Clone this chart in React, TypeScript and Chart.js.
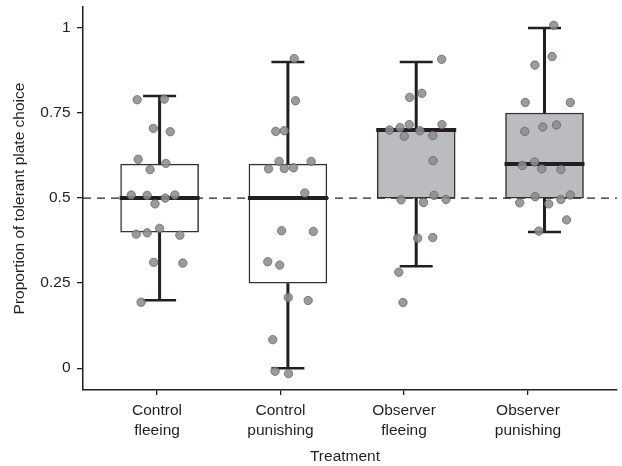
import React, { useEffect, useRef } from "react";
import { Chart, registerables } from "chart.js";

Chart.register(...registerables);

const FONT = "'Liberation Sans', Arial, Helvetica, sans-serif";
const INK = "#231f20";

// Categories / tick labels
const categories: string[][] = [
  ["Control", "fleeing"],
  ["Control", "punishing"],
  ["Observer", "fleeing"],
  ["Observer", "punishing"],
];
const groupX = [1, 2, 3, 4];
const categoryTickX = [0.98, 1.942, 2.905, 3.871];
const yTickValues = [0, 0.25, 0.5, 0.75, 1];
const yTickLabels = ["0", "0.25", "0.5", "0.75", "1"];
const xTitle = "Treatment";
const yTitle = "Proportion of tolerant plate choice";
const referenceValue = 0.5;

// Box summaries
const whiskerLow = [0.2, 0.0, 0.3, 0.4];
const quartile1 = [0.4, 0.25, 0.5, 0.5];
const medians = [0.5, 0.5, 0.7, 0.6];
const quartile3 = [0.6, 0.6, 0.7, 0.75];
const whiskerHigh = [0.8, 0.9, 0.9, 1.0];
const boxFills = ["#ffffff", "#ffffff", "#bbbcbf", "#bbbcbf"];

// Individual observations (value, horizontal jitter in category units)
const controlFleeing = [0.789, 0.791, 0.705, 0.695, 0.614, 0.602, 0.584, 0.509, 0.508, 0.5, 0.509, 0.483, 0.394, 0.398, 0.411, 0.391, 0.311, 0.309, 0.194];
const controlFleeingJitter = [-0.175, 0.036, -0.049, 0.083, -0.167, 0.049, -0.074, -0.221, -0.097, 0.044, 0.119, -0.036, -0.182, -0.097, 0.0, 0.158, -0.046, 0.181, -0.144];

const controlPunishing = [0.91, 0.786, 0.696, 0.698, 0.608, 0.608, 0.586, 0.587, 0.589, 0.515, 0.404, 0.402, 0.313, 0.303, 0.208, 0.199, 0.084, -0.009, -0.016];
const controlPunishingJitter = [0.049, 0.059, -0.095, -0.028, -0.069, 0.181, -0.151, -0.028, 0.044, 0.132, -0.049, 0.198, -0.157, -0.064, 0.003, 0.158, -0.118, -0.1, 0.005];

const observerFleeing = [0.908, 0.796, 0.808, 0.7, 0.707, 0.716, 0.698, 0.716, 0.682, 0.684, 0.61, 0.508, 0.495, 0.487, 0.496, 0.382, 0.384, 0.282, 0.193];
const observerFleeingJitter = [0.198, -0.051, 0.044, -0.208, -0.126, -0.054, 0.029, 0.201, -0.093, 0.129, 0.131, 0.139, -0.118, 0.057, 0.232, 0.011, 0.129, -0.136, -0.103];

const observerPunishing = [1.008, 0.916, 0.891, 0.781, 0.781, 0.696, 0.709, 0.715, 0.606, 0.596, 0.586, 0.584, 0.504, 0.509, 0.486, 0.483, 0.496, 0.436, 0.403];
const observerPunishingJitter = [0.072, 0.059, -0.075, -0.15, 0.201, -0.154, -0.013, 0.093, -0.077, -0.173, -0.021, 0.128, -0.073, 0.201, -0.193, 0.033, 0.127, 0.172, -0.044];

const groupValues = [controlFleeing, controlPunishing, observerFleeing, observerPunishing];
const groupJitter = [controlFleeingJitter, controlPunishingJitter, observerFleeingJitter, observerPunishingJitter];

export default function App() {
  const ref = useRef<HTMLCanvasElement>(null);

  useEffect(() => {
    document.body.style.margin = "0";
    const canvas = ref.current;
    if (!canvas) return;

    const points: { x: number; y: number }[] = [];
    groupValues.forEach((vals, g) => {
      vals.forEach((v, i) => points.push({ x: groupX[g] + groupJitter[g][i], y: v }));
    });

    const boxParts = {
      id: "boxParts",
      beforeDatasetsDraw(chart: any) {
        const { ctx, chartArea, scales } = chart;
        const y = scales.y.getPixelForValue(referenceValue);
        ctx.save();
        ctx.strokeStyle = INK;
        ctx.lineWidth = 1.3;
        ctx.setLineDash([8, 6]);
        ctx.beginPath();
        ctx.moveTo(chartArea.left, y);
        ctx.lineTo(chartArea.right, y);
        ctx.stroke();
        ctx.restore();
      },
      afterDatasetDraw(chart: any, args: any) {
        if (args.meta.type !== "bar") return;
        const { ctx, scales } = chart;
        const xs = scales.x;
        const ys = scales.y;
        ctx.save();
        ctx.strokeStyle = INK;
        ctx.lineCap = "butt";
        groupX.forEach((gx, i) => {
          const x = xs.getPixelForValue(gx);
          const yLo = ys.getPixelForValue(whiskerLow[i]);
          const yQ1 = ys.getPixelForValue(quartile1[i]);
          const yQ3 = ys.getPixelForValue(quartile3[i]);
          const yHi = ys.getPixelForValue(whiskerHigh[i]);
          const yMed = ys.getPixelForValue(medians[i]);
          ctx.lineWidth = 3;
          ctx.beginPath();
          ctx.moveTo(x, yQ3);
          ctx.lineTo(x, yHi);
          ctx.moveTo(x, yQ1);
          ctx.lineTo(x, yLo);
          ctx.stroke();
          ctx.lineWidth = 2.5;
          ctx.beginPath();
          ctx.moveTo(x - 16.5, yHi);
          ctx.lineTo(x + 16.5, yHi);
          ctx.moveTo(x - 16.5, yLo);
          ctx.lineTo(x + 16.5, yLo);
          ctx.stroke();
          ctx.lineWidth = 4;
          ctx.beginPath();
          ctx.moveTo(x - 40, yMed);
          ctx.lineTo(x + 40, yMed);
          ctx.stroke();
        });
        ctx.restore();
      },
      afterDraw(chart: any) {
        const { ctx } = chart;
        ctx.save();
        ctx.fillStyle = INK;
        ctx.font = `15.5px ${FONT}`;
        ctx.textAlign = "center";
        ctx.textBaseline = "middle";
        ctx.fillText(xTitle, 345, 457);
        ctx.restore();
      },
    };

    const chart = new Chart(canvas, {
      type: "bar",
      data: {
        datasets: [
          {
            type: "scatter",
            data: points,
            order: 1,
            pointRadius: 4.2,
            pointBackgroundColor: "rgba(140,141,144,0.88)",
            pointBorderColor: "rgba(95,95,98,0.9)",
            pointBorderWidth: 0.8,
            clip: false,
          } as any,
          {
            type: "bar",
            data: groupX.map((x, i) => ({ x, y: [quartile1[i], quartile3[i]] })) as any,
            order: 2,
            backgroundColor: boxFills,
            borderColor: "#333333",
            borderWidth: 1.5,
            borderSkipped: false,
            barThickness: 78,
            grouped: false,
          } as any,
        ],
      },
      options: {
        responsive: false,
        animation: false,
        devicePixelRatio: 1,
        events: [],
        layout: { padding: { left: 0, top: 7, right: 0, bottom: 0 } },
        plugins: {
          legend: { display: false },
          tooltip: { enabled: false },
        },
        scales: {
          x: {
            type: "linear",
            min: 0.403,
            max: 4.565,
            offset: false,
            afterBuildTicks(scale: any) {
              scale.ticks = categoryTickX.map((v) => ({ value: v }));
            },
            afterFit(scale: any) {
              scale.height = 76;
              scale.paddingLeft = 0;
              scale.paddingRight = 0;
            },
            ticks: {
              autoSkip: false,
              maxRotation: 0,
              minRotation: 0,
              padding: 6,
              color: INK,
              font: { family: FONT, size: 15.5, lineHeight: 1.26 },
              callback: (_v: any, i: number) => categories[i],
            },
            grid: { offset: false, drawOnChartArea: false, drawTicks: true, tickLength: 5, color: INK, lineWidth: 1.3 },
            border: { display: true, color: INK, width: 1.5 },
          },
          y: {
            type: "linear",
            min: -0.0641,
            max: 1.0617,
            afterBuildTicks(scale: any) {
              scale.ticks = yTickValues.map((v) => ({ value: v }));
            },
            afterFit(scale: any) {
              scale.width = 83;
              scale.paddingTop = 0;
              scale.paddingBottom = 0;
            },
            ticks: {
              padding: 6.5,
              color: INK,
              font: { family: FONT, size: 15.5 },
              callback: (_v: any, i: number) => yTickLabels[i],
            },
            grid: { offset: false, drawOnChartArea: false, drawTicks: true, tickLength: 6, color: INK, lineWidth: 1.3 },
            border: { display: true, color: INK, width: 1.5 },
            title: {
              display: true,
              text: yTitle,
              color: INK,
              font: { family: FONT, size: 15.5 },
              padding: { top: 10, bottom: 0 },
            },
          },
        },
      },
      plugins: [boxParts],
    });

    return () => chart.destroy();
  }, []);

  return (
    <div style={{ width: 622, height: 466 }}>
      <canvas ref={ref} width={622} height={466} />
    </div>
  );
}
